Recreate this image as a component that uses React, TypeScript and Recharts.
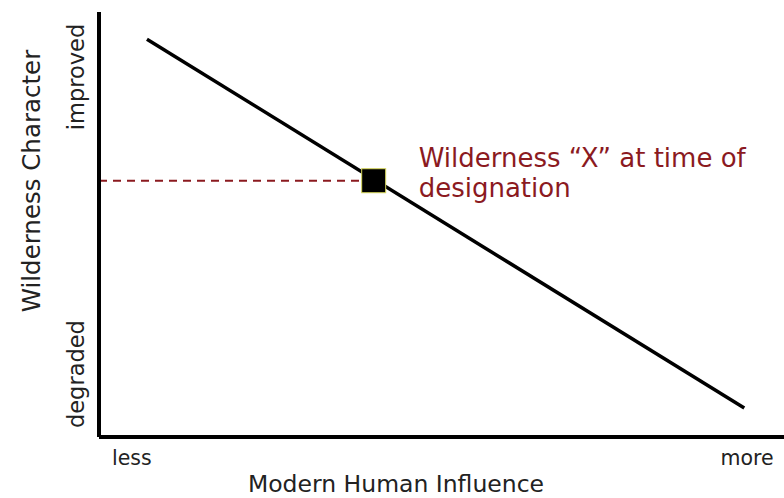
import { ComposedChart, Line, Scatter, XAxis, YAxis, ReferenceDot, Label } from "recharts";

// main line: less influence -> improved, more influence -> degraded
const trendX = [7, 94.2];
const trendY = [93.6, 6.8];
// wilderness "X" at designation
const markX = [40.1];
const markY = [60.3];
const dashX = [0, 40.1];
const dashY = [60.3, 60.3];

const xTicks = [4.8, 94.6];
const xTickLabels = ["less", "more"];
const yTicks = [14.8, 84.7];
const yTickLabels = ["degraded", "improved"];

const annotation = ["Wilderness \u201cX\u201d at time of", "designation"];

const trend = trendX.map((x, i) => ({ x, y: trendY[i] }));
const mark = markX.map((x, i) => ({ x, y: markY[i] }));
const dash = dashX.map((x, i) => ({ x, y: dashY[i] }));

const RED = "#8b1a1f";
const FONT = "'DejaVu Sans', Verdana, sans-serif";

function XTick({ x, payload }: any) {
  const i = xTicks.indexOf(payload.value);
  return (
    <text x={x} y={465} textAnchor="middle" fontFamily={FONT} fontSize={20.5} fill="#222">
      {xTickLabels[i]}
    </text>
  );
}

function YTick({ y, payload }: any) {
  const i = yTicks.indexOf(payload.value);
  return (
    <text x={0} y={0} transform={`translate(84, ${y}) rotate(-90)`} textAnchor="middle" fontFamily={FONT} fontSize={22.5} fill="#222">
      {yTickLabels[i]}
    </text>
  );
}

function Square({ cx, cy }: any) {
  return <rect x={cx - 12} y={cy - 12} width={24} height={24} fill="#000" stroke="#d6d65a" strokeWidth={1} />;
}

function Note({ viewBox }: any) {
  const x = viewBox.cx !== undefined ? viewBox.cx : viewBox.x;
  const y = viewBox.cy !== undefined ? viewBox.cy : viewBox.y;
  return (
    <g>
      {annotation.map((t, i) => (
        <text key={i} x={x + 45} y={y - 14 + i * 30} fontFamily={FONT} fontSize={26} fill={RED}>
          {t}
        </text>
      ))}
    </g>
  );
}

export default function App() {
  return (
    <div style={{ position: "absolute", left: 0, top: 0, width: 784, height: 498, background: "#fff" }}>
      <ComposedChart width={784} height={498} margin={{ top: 12, right: 0, bottom: 0, left: 0 }}>
        <XAxis
          type="number"
          dataKey="x"
          domain={[0, 100]}
          ticks={xTicks}
          tick={<XTick />}
          tickLine={false}
          axisLine={{ stroke: "#000", strokeWidth: 4 }}
          height={61}
          allowDataOverflow
        >
          <Label
            content={() => (
              <text x={396} y={492} textAnchor="middle" fontFamily={FONT} fontSize={23.5} fill="#222">
                Modern Human Influence
              </text>
            )}
          />
        </XAxis>
        <YAxis
          type="number"
          dataKey="y"
          domain={[0, 100]}
          ticks={yTicks}
          tick={<YTick />}
          tickLine={false}
          axisLine={{ stroke: "#000", strokeWidth: 4 }}
          width={99}
          allowDataOverflow
        >
          <Label
            content={() => (
              <text x={0} y={0} transform="translate(40, 181) rotate(-90)" textAnchor="middle" fontFamily={FONT} fontSize={24.5} fill="#222">
                Wilderness Character
              </text>
            )}
          />
        </YAxis>
        <Line data={dash} dataKey="y" stroke={RED} strokeWidth={2} strokeDasharray="8 6" dot={false} isAnimationActive={false} />
        <Line data={trend} dataKey="y" stroke="#000" strokeWidth={3.5} dot={false} isAnimationActive={false} />
        <Scatter data={mark} dataKey="y" shape={<Square />} isAnimationActive={false} />
        <ReferenceDot x={markX[0]} y={markY[0]} r={0} stroke="none" fill="none">
          <Label content={<Note />} />
        </ReferenceDot>
      </ComposedChart>
    </div>
  );
}
